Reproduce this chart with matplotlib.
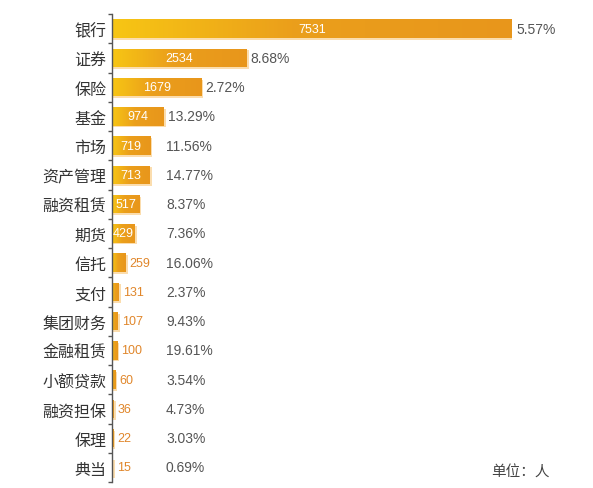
import numpy as np
import matplotlib.pyplot as plt
from matplotlib.colors import LinearSegmentedColormap

plt.rcParams['font.family'] = ['Noto Sans CJK SC', 'DejaVu Sans']

# data
categories = ['银行', '证券', '保险', '基金', '市场', '资产管理', '融资租赁', '期货',
              '信托', '支付', '集团财务', '金融租赁', '小额贷款', '融资担保', '保理', '典当']
values = [7531, 2534, 1679, 974, 719, 713, 517, 429, 259, 131, 107, 100, 60, 36, 22, 15]
pcts = ['5.57%', '8.68%', '2.72%', '13.29%', '11.56%', '14.77%', '8.37%', '7.36%',
        '16.06%', '2.37%', '9.43%', '19.61%', '3.54%', '4.73%', '3.03%', '0.69%']

n = len(categories)
y = np.arange(n)
xmax = max(values)
numfont = ['Liberation Sans', 'DejaVu Sans']

fig = plt.figure(figsize=(5.93, 4.89), dpi=100)
# spine at x=112px, longest bar ends at x=512px
ax = fig.add_axes([112/593, 1-483/489, 400/593, 468/489])

cmap = LinearSegmentedColormap.from_list('yo', [(0, '#F7C614'), (0.45, '#EB9F1B'), (1, '#E8961C')])
grad = np.linspace(0, 1, 256).reshape(1, -1)
h = 0.64
ppu = 400 / xmax  # pixels per data unit

# light shadow under the bars
ax.barh(y + 0.06, [v + 2/ppu for v in values], height=h, color='#FBDDAE', zorder=1)
bars = ax.barh(y, values, height=h, color='none', zorder=2)
for b, v, yi in zip(bars, values, y):
    im = ax.imshow(grad, extent=[0, v, yi + h/2, yi - h/2], aspect='auto', cmap=cmap, zorder=2)
    im.set_clip_path(b)

ax.set_xlim(0, xmax)
ax.set_ylim(n - 0.5, -0.5)

for v, p, yi in zip(values, pcts, y):
    if v >= 400:
        ax.text(v / 2, yi, str(v), color='white', fontsize=9, family=numfont,
                ha='center', va='center', zorder=3)
    else:
        ax.text(v + 4/ppu, yi, str(v), color='#E0862A', fontsize=9, family=numfont,
                ha='left', va='center', zorder=3)
    xp = max(v + 4/ppu, 54/ppu)
    ax.text(xp, yi, p, color='#555555', fontsize=10, family=numfont,
            ha='left', va='center', clip_on=False)

ax.set_yticks(y)
ax.set_yticklabels(categories, fontsize=11.5, color='#333333')
ax.set_yticks(np.linspace(-0.5, n - 0.5, 17), minor=True)
ax.tick_params(axis='y', which='major', length=0, pad=4)
ax.tick_params(axis='y', which='minor', length=3, width=1, color='#555555', direction='out')
ax.set_xticks([])
for s in ['top', 'right', 'bottom']:
    ax.spines[s].set_visible(False)
ax.spines['left'].set_color('#555555')
ax.spines['left'].set_linewidth(1)
ax.patch.set_alpha(0)

fig.text(550/593, 1-473/489, '单位：人', fontsize=10.5, color='#444444', ha='right', va='center')

fig.savefig('out.png', dpi=100)
